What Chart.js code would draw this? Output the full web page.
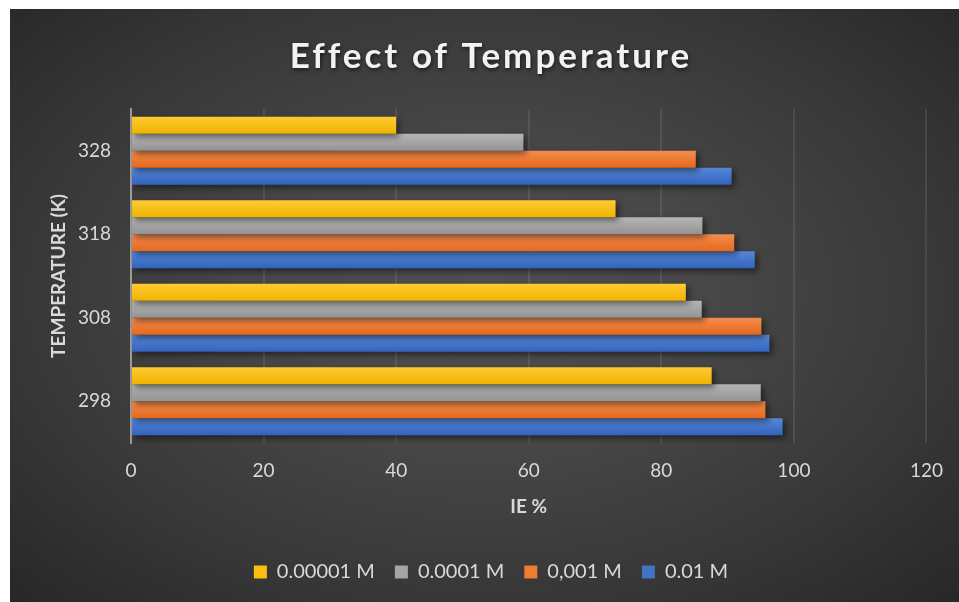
<!DOCTYPE html>
<html lang="en">

<head>
    <meta charset="UTF-8">
    <title>Effect of Temperature</title>
    <script src="https://cdn.jsdelivr.net/npm/chart.js"></script>
    <style>
        body {
            margin: 0;
            background: #ffffff;
        }

        .fundo {
            position: absolute;
            left: 10px;
            top: 9px;
            width: 949px;
            height: 593px;
            background: radial-gradient(ellipse at 50% 48%, #4f4f4f 0%, #474747 35%, #373737 70%, #272727 100%);
        }
    </style>
</head>

<body>
    <div class="fundo">
        <canvas id="myChart"></canvas>
    </div>

<script>
    // values
    const temperatures = ['328', '318', '308', '298'];
    const ie00001 = [40.0, 73.1, 83.7, 87.6];
    const ie0001 = [59.2, 86.2, 86.1, 95.0];
    const ie001 = [85.2, 91.0, 95.1, 95.7];
    const ie01 = [90.6, 94.1, 96.3, 98.3];
    const ieTicks = [0, 20, 40, 60, 80, 100, 120];

    const catPercent = 0.815;
    const textColor = '#d9d9d9';
    const font = 'Lato';

    // vertical gradient on each bar (light top, darker bottom)
    function barFill(top, mid, bottom) {
        return function (c) {
            const ys = c.chart.scales.y;
            if (c.type !== 'data' || !ys) return mid;
            const cat = ys.height / temperatures.length;
            const size = cat * catPercent / 4;
            const y0 = ys.getPixelForValue(c.dataIndex) - cat * catPercent / 2 + c.datasetIndex * size;
            if (!isFinite(y0) || !isFinite(size) || size <= 0) return mid;
            const g = c.chart.ctx.createLinearGradient(0, y0, 0, y0 + size);
            g.addColorStop(0, top);
            g.addColorStop(1, bottom);
            return g;
        };
    }

    const series = [
        { label: '0.00001 M', data: ie00001, colors: ['#ffcb33', '#fbbf10', '#efb300'] },
        { label: '0.0001 M', data: ie0001, colors: ['#b5b5b5', '#a5a5a5', '#939393'] },
        { label: '0,001 M', data: ie001, colors: ['#f48d50', '#ed7d31', '#e6681a'] },
        { label: '0.01 M', data: ie01, colors: ['#5688d8', '#4472c4', '#3363bd'] }
    ];

    // shadow under the bars
    const barShadow = {
        id: 'barShadow',
        beforeDatasetsDraw(chart) {
            const ctx = chart.ctx;
            ctx.save();
            ctx.shadowColor = 'rgba(0, 0, 0, 0.5)';
            ctx.shadowBlur = 6;
            ctx.shadowOffsetX = 3;
            ctx.shadowOffsetY = 3;
        },
        afterDatasetsDraw(chart) {
            chart.ctx.restore();
        }
    };

    // letter spacing + shadow for the title
    const spacedTitle = {
        id: 'spacedTitle',
        beforeDraw(chart) {
            const t = chart.titleBlock;
            if (!t || t._spaced) return;
            const orig = t.draw.bind(t);
            t.draw = function () {
                const ctx = chart.ctx;
                ctx.save();
                ctx.letterSpacing = '3px';
                ctx.shadowColor = 'rgba(0, 0, 0, 0.6)';
                ctx.shadowBlur = 4;
                ctx.shadowOffsetX = 1;
                ctx.shadowOffsetY = 2;
                orig();
                ctx.restore();
            };
            t._spaced = true;
        }
    };

    const config = {
        type: 'bar',
        data: {
            labels: temperatures,
            datasets: series.map(s => ({
                label: s.label,
                data: s.data,
                backgroundColor: barFill(s.colors[0], s.colors[1], s.colors[2]),
                legendColor: s.colors[1],
                borderWidth: 0,
                categoryPercentage: catPercent,
                barPercentage: 1
            }))
        },
        options: {
            indexAxis: 'y',
            responsive: true,
            maintainAspectRatio: false,
            animation: false,
            layout: { padding: { top: 0, left: 13, right: 0, bottom: 10 } },
            scales: {
                x: {
                    min: 0,
                    max: 120,
                    afterBuildTicks: s => { s.ticks = ieTicks.map(v => ({ value: v })); },
                    afterFit: s => { s.height = 99; },
                    grid: {
                        color: c => c.tick && c.tick.value === 0 ? 'rgba(0,0,0,0)' : 'rgba(255,255,255,0.09)',
                        lineWidth: 2,
                        drawTicks: false
                    },
                    border: { display: false },
                    ticks: { color: textColor, font: { family: font, size: 19 }, padding: 16 },
                    title: {
                        display: true,
                        text: 'IE %',
                        color: textColor,
                        font: { family: font, size: 19, weight: 'bold' },
                        padding: { top: 0, bottom: 24 }
                    }
                },
                y: {
                    afterFit: s => { s.width = 108; },
                    grid: { display: false, drawTicks: false },
                    border: { display: true, color: '#9c9c9c', width: 2 },
                    ticks: { color: textColor, font: { family: font, size: 19 }, padding: 20 },
                    title: {
                        display: true,
                        text: 'TEMPERATURE (K)',
                        color: textColor,
                        font: { family: font, size: 19, weight: 'bold' },
                        padding: { top: 24.5, bottom: 0 }
                    }
                },
                // empty right axis, only keeps space on the right of the plot
                yRight: {
                    type: 'category',
                    position: 'right',
                    afterFit: s => { s.width = 32; },
                    grid: { display: false, drawTicks: false },
                    border: { display: false },
                    ticks: { display: false }
                }
            },
            plugins: {
                title: {
                    display: true,
                    text: 'Effect of Temperature',
                    color: '#f2f2f2',
                    font: { family: font, size: 35, weight: 'bold' },
                    padding: { top: 27, bottom: 31 }
                },
                legend: {
                    position: 'bottom',
                    labels: {
                        color: textColor,
                        font: { family: font, size: 20 },
                        boxWidth: 13,
                        boxHeight: 13,
                        padding: 20,
                        generateLabels: function (chart) {
                            const items = Chart.defaults.plugins.legend.labels.generateLabels(chart);
                            items.forEach(it => {
                                it.fillStyle = chart.data.datasets[it.datasetIndex].legendColor;
                                it.lineWidth = 0;
                                it.strokeStyle = 'rgba(0,0,0,0)';
                            });
                            return items;
                        }
                    }
                },
                tooltip: { enabled: false }
            }
        },
        plugins: [barShadow, spacedTitle]
    };

    let myChart = new Chart(document.getElementById('myChart'), config);
</script>
</body>

</html>
